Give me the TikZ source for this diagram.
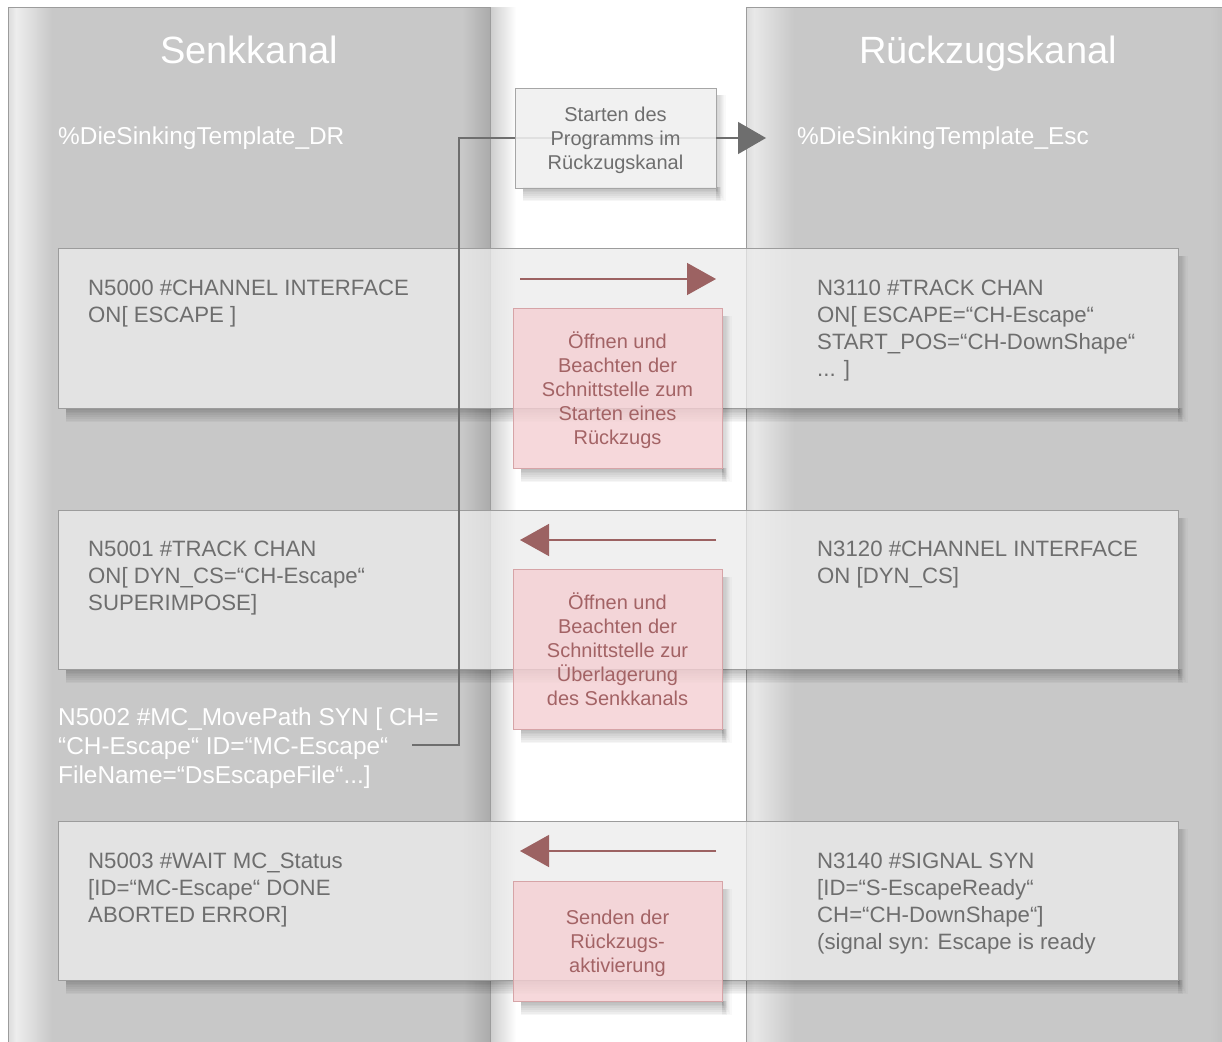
\documentclass[tikz,border=0pt]{standalone}
\usepackage{fontspec}
\setmainfont{Liberation Sans}
\usetikzlibrary{arrows.meta}

\definecolor{lanegray}{HTML}{C8C8C8}
\definecolor{edgegray}{HTML}{9C9C9C}
\definecolor{txtgray}{HTML}{6E6E6E}
\definecolor{bandfill}{HTML}{ECECEC}
\definecolor{pinkfill}{HTML}{F4CFD2}
\definecolor{pinkedge}{HTML}{D6A4A7}
\definecolor{pinktext}{HTML}{A36365}
\definecolor{arrowred}{HTML}{9C6262}
\definecolor{wiregray}{HTML}{6E6E6E}

\pgfdeclarelayer{lanes}
\pgfdeclarelayer{bands}
\pgfdeclarelayer{wires}
\pgfsetlayers{lanes,bands,wires,main}

% soft shadow below and right of a box: x1,y1 (top left), x2,y2 (bottom right)
\newcommand{\softshadow}[4]{%
  \foreach \k in {1,...,8}{%
    \fill[black,opacity=0.035] (#1+8,#4) rectangle (#3+\k*0.6,#4+\k*1.8);
    \fill[black,opacity=0.025] (#3,#2+8) rectangle (#3+\k*1.2,#4+\k*1.8);
  }%
}

\tikzset{
  title/.style={text=white,font=\fontsize{38}{44}\selectfont,inner sep=0pt,anchor=base},
  lanetext/.style={text=white,font=\fontsize{24.4}{29}\selectfont,inner sep=0pt,align=left},
  rowtext/.style={text=txtgray,font=\fontsize{22.2}{27}\selectfont,inner sep=0pt,align=left,anchor=north west},
  note/.style={draw=pinkedge,line width=0.8pt,fill=pinkfill,fill opacity=0.8,text opacity=1,
    text=pinktext,font=\fontsize{20}{24}\selectfont,align=center,minimum width=209pt,inner sep=0pt,text depth=0pt},
  startbox/.style={draw=edgegray!90,line width=0.8pt,fill=white!94!black,fill opacity=0.88,text opacity=1,
    text=txtgray,font=\fontsize{20}{24}\selectfont,align=center,minimum width=201pt,minimum height=100pt,
    inner sep=0pt,text depth=0pt},
  band/.style={draw=edgegray,line width=0.8pt,fill=bandfill,fill opacity=0.76},
  wire/.style={draw=wiregray,line width=1.3pt},
  redarrow/.style={draw=arrowred,line width=1.5pt,-{Triangle[length=29pt,width=32pt]}},
}

\begin{document}
\begin{tikzpicture}[x=1pt,y=-1pt]
\useasboundingbox (0,0) rectangle (1222,1041);

% ---- swim lanes (run a little past the lower edge) ----
\begin{pgfonlayer}{lanes}
  \fill[white] (0,0) rectangle (1222,1048);
  % shadow cast by the left lane
  \fill[left color=black!20,right color=white] (490,8) rectangle (516,1048);
  % left lane
  \fill[lanegray] (8,8) rectangle (490,1048);
  \fill[left color=black!14,right color=white!93!black] (8,8) rectangle (16,1048);
  \fill[left color=white!93!black,right color=lanegray] (16,8) rectangle (52,1048);
  \fill[left color=lanegray,right color=black!33] (462,8) rectangle (490,1048);
  \draw[edgegray,line width=1pt] (8,1048) -- (8,8) -- (490,8) -- (490,1048);
  % right lane
  \fill[lanegray] (746,8) rectangle (1225,1048);
  \fill[left color=white!86!black,right color=white!91!black] (746,8) rectangle (754,1048);
  \fill[left color=white!91!black,right color=lanegray] (754,8) rectangle (794,1048);
  \fill[left color=lanegray,right color=black!25] (1210,8) rectangle (1225,1048);
  \draw[edgegray,line width=1pt] (746,1048) -- (746,8) -- (1225,8);
\end{pgfonlayer}

% ---- lane titles and texts ----
\node[title] (tleft) at (249,63.6) {Senkkanal};
\node[title] (tright) at (988,63.6) {Rückzugskanal};
\node[lanetext,anchor=base west] (dr) at (58,144) {\%DieSinkingTemplate\_DR};
\node[lanetext,anchor=base west] (esc) at (797,144) {\%DieSinkingTemplate\_Esc};
\node[lanetext,anchor=north west] (n5002) at (58,707.5)
  {N5002 \#MC\_MovePath SYN [ CH=\\“CH-Escape“ ID=“MC-Escape“\\FileName=“DsEscapeFile“...]};

% ---- horizontal bands ----
\begin{pgfonlayer}{bands}
  \softshadow{58}{248}{1178}{408}
  \softshadow{58}{510}{1178}{669}
  \softshadow{58}{821}{1178}{980}
  \path[band] (58,248) rectangle (1178,408);
  \path[band] (58,510) rectangle (1178,669);
  \path[band] (58,821) rectangle (1178,980);
\end{pgfonlayer}

% ---- texts in the bands ----
\node[rowtext] (n5000) at (88,280) {N5000 \#CHANNEL INTERFACE\\ON[ ESCAPE ]};
\node[rowtext] (n3110) at (817,280) {N3110 \#TRACK CHAN\\ON[ ESCAPE=“CH-Escape“\\START\_POS=“CH-DownShape“\\... ]};
\node[rowtext] (n5001) at (88,541) {N5001 \#TRACK CHAN\\ON[ DYN\_CS=“CH-Escape“\\SUPERIMPOSE]};
\node[rowtext] (n3120) at (817,541) {N3120 \#CHANNEL INTERFACE\\ON [DYN\_CS]};
\node[rowtext] (n5003) at (88,853) {N5003 \#WAIT MC\_Status\\{}[ID=“MC-Escape“ DONE\\ABORTED ERROR]};
\node[rowtext] (n3140) at (817,853) {N3140 \#SIGNAL SYN\\{}[ID=“S-EscapeReady“\\CH=“CH-DownShape“]\\(signal syn: Escape is ready};

% ---- shadows of the middle boxes ----
\begin{pgfonlayer}{bands}
  \softshadow{515}{87}{716}{187}
  \softshadow{513}{308}{722}{468}
  \softshadow{513}{569}{722}{729}
  \softshadow{513}{881}{722}{1001}
\end{pgfonlayer}

% ---- middle boxes ----
\node[startbox] (start) at (615.5,138) {Starten des\\Programms im\\Rückzugskanal};
\node[note,minimum height=160pt] (open1) at (617.5,388) {Öffnen und\\Beachten der\\Schnittstelle zum\\Starten eines\\Rückzugs};
\node[note,minimum height=160pt] (open2) at (617.5,649) {Öffnen und\\Beachten der\\Schnittstelle zur\\Überlagerung\\des Senkkanals};
\node[note,minimum height=120pt] (send) at (617.5,941) {Senden der\\Rückzugs-\\aktivierung};

% ---- connector from the MovePath call to the escape program ----
\coordinate (wstart) at (412,745);
\coordinate (wbend) at (459,745);
\coordinate (wtip) at (766,138);
\begin{pgfonlayer}{wires}
  \draw[wire] (wstart) -- (wbend) |- (start.east);
\end{pgfonlayer}
\draw[wire,-{Triangle[length=28pt,width=32pt]},fill=wiregray] (start.east) -- (wtip);

% ---- interface arrows ----
\coordinate (a1l) at (520,279); \coordinate (a1r) at (716,279);
\coordinate (a2l) at (520,540); \coordinate (a2r) at (716,540);
\coordinate (a3l) at (520,851); \coordinate (a3r) at (716,851);
\draw[redarrow] (a1l) -- (a1r);
\draw[redarrow] (a2r) -- (a2l);
\draw[redarrow] (a3r) -- (a3l);
\end{tikzpicture}
\end{document}
